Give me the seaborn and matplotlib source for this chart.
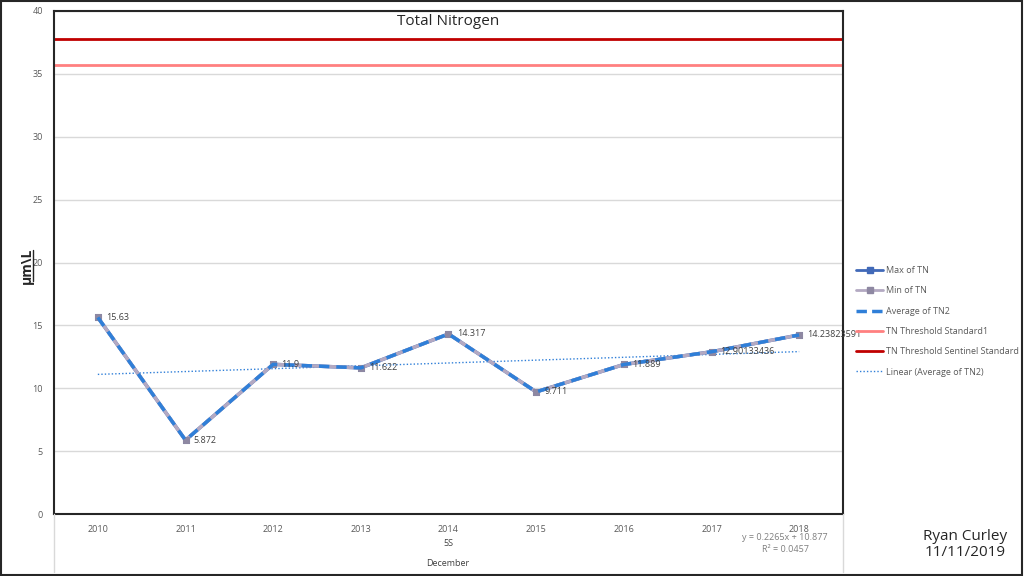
import numpy as np
import pandas as pd
import seaborn as sns
import matplotlib.pyplot as plt
from matplotlib.lines import Line2D
from matplotlib.patches import Rectangle

# данные с графика
years = ['2010', '2011', '2012', '2013', '2014', '2015', '2016', '2017', '2018']
tn_max = [15.63, 5.872, 11.9, 11.622, 14.317, 9.711, 11.889, 12.90133436, 14.23823591]
tn_min = [15.63, 5.872, 11.9, 11.622, 14.317, 9.711, 11.889, 12.90133436, 14.23823591]
tn_avg = [15.63, 5.872, 11.9, 11.622, 14.317, 9.711, 11.889, 12.90133436, 14.23823591]
point_labels = ['15.63', '5.872', '11.9', '11.622', '14.317', '9.711', '11.889', '12.90133436', '14.23823591']
threshold_std = 35.7
threshold_sentinel = 37.8

sns.set_style('white')
plt.rcParams['font.family'] = ['Open Sans', 'DejaVu Sans']

df = pd.DataFrame({'Year': years, 'Max': tn_max, 'Min': tn_min, 'Avg': tn_avg})
df['pos'] = np.arange(len(years))

fig = plt.figure(figsize=(10.24, 5.76), dpi=100)
ax = fig.add_axes([54 / 1024, 1 - 514 / 576, (843 - 54) / 1024, (514 - 11) / 576])

c_max = '#4169B8'
c_min = '#B3A9C2'
c_avg = '#2F7FD8'
c_pink = '#FF8080'
c_red = '#C00000'
c_mark = '#8E88A2'

# пороговые линии
thr = pd.DataFrame({'pos': [-0.5, 8.5], 'std': [threshold_std] * 2, 'sent': [threshold_sentinel] * 2})
sns.lineplot(data=thr, x='pos', y='std', color=c_pink, lw=2, ax=ax)
sns.lineplot(data=thr, x='pos', y='sent', color=c_red, lw=2, ax=ax)

# линия тренда
k, b = np.polyfit(df['pos'] + 1, df['Avg'], 1)
df['trend'] = k * (df['pos'] + 1) + b
sns.lineplot(data=df, x='pos', y='trend', color=c_avg, lw=1, linestyle=(0, (1, 1.5)), ax=ax)

sns.lineplot(data=df, x='pos', y='Max', color=c_max, lw=2.5, marker='s', markersize=5,
             markeredgecolor=c_max, markerfacecolor=c_max, ax=ax)
sns.lineplot(data=df, x='pos', y='Min', color=c_min, lw=2.5, marker='s', markersize=5,
             markeredgecolor=c_mark, markerfacecolor=c_mark, ax=ax)
sns.lineplot(data=df, x='pos', y='Avg', color=c_avg, lw=2.5, linestyle=(0, (3, 2)), ax=ax)

for p, v, s in zip(df['pos'], df['Avg'], point_labels):
    ax.annotate(s, (p, v), xytext=(6, 0), textcoords='offset points', va='center', ha='left',
                fontsize=6.5, color='#404040')

ax.set_xlim(-0.5, 8.5)
ax.set_ylim(0, 40)
ax.set_yticks(range(0, 41, 5))
ax.set_xticks(df['pos'])
ax.set_xticklabels(years)
ax.tick_params(axis='both', labelsize=6.5, labelcolor='#595959', length=0, pad=8)
ax.yaxis.grid(True, color='#D9D9D9', lw=1)
ax.set_xlabel('')
ax.set_ylabel('')
for s in ax.spines.values():
    s.set_color('#262626')
    s.set_linewidth(1.5)

ax.set_title('Total Nitrogen', fontsize=11, color='#262626', pad=-10)

# подписи под осью
fig.text(448 / 1024, 1 - 544 / 576, '5S', ha='center', va='center', fontsize=6.5, color='#404040')
fig.text(448 / 1024, 1 - 563 / 576, 'December', ha='center', va='center', fontsize=6.5, color='#404040')
fig.text(785 / 1024, 1 - 537 / 576, 'y = 0.2265x + 10.877', ha='center', va='center', fontsize=6.5, color='#7F7F7F')
fig.text(785 / 1024, 1 - 549 / 576, 'R² = 0.0457', ha='center', va='center', fontsize=6.5, color='#7F7F7F')
fig.add_artist(Line2D([54 / 1024] * 2, [1 - 514 / 576, 1 - 572 / 576], color='#D9D9D9', lw=1))
fig.add_artist(Line2D([843 / 1024] * 2, [1 - 514 / 576, 1 - 572 / 576], color='#D9D9D9', lw=1))

fig.text(27 / 1024, 1 - 266 / 576, 'µm\\L', rotation=90, ha='center', va='center', fontsize=10,
         fontweight='bold', color='#262626')
fig.add_artist(Line2D([33 / 1024] * 2, [1 - 250 / 576, 1 - 281 / 576], color='#262626', lw=1))

fig.text(965 / 1024, 1 - 537 / 576, 'Ryan Curley', ha='center', va='center', fontsize=11, color='#262626')
fig.text(965 / 1024, 1 - 552 / 576, '11/11/2019', ha='center', va='center', fontsize=11, color='#262626')

handles = [
    Line2D([], [], color=c_max, lw=2, marker='s', markersize=4),
    Line2D([], [], color=c_min, lw=2, marker='s', markersize=4, markerfacecolor=c_mark, markeredgecolor=c_mark),
    Line2D([], [], color=c_avg, lw=2.5, linestyle=(0, (3, 1.5))),
    Line2D([], [], color=c_pink, lw=2),
    Line2D([], [], color=c_red, lw=2),
    Line2D([], [], color=c_avg, lw=1, linestyle=(0, (1, 1.5))),
]
labels = ['Max of TN', 'Min of TN', 'Average of TN2', 'TN Threshold Standard1',
          'TN Threshold Sentinel Standard', 'Linear (Average of TN2)']
fig.legend(handles, labels, loc='upper left', bbox_to_anchor=(848 / 1024, 1 - 258 / 576), frameon=False,
           fontsize=6.5, labelcolor='#595959', handlelength=3, handletextpad=0.3, labelspacing=1.25)

fig.add_artist(Rectangle((0.001, 0.002), 0.997, 0.996, transform=fig.transFigure, fill=False,
                         edgecolor='#262626', lw=1.5))

fig.savefig('out.png', dpi=100)
